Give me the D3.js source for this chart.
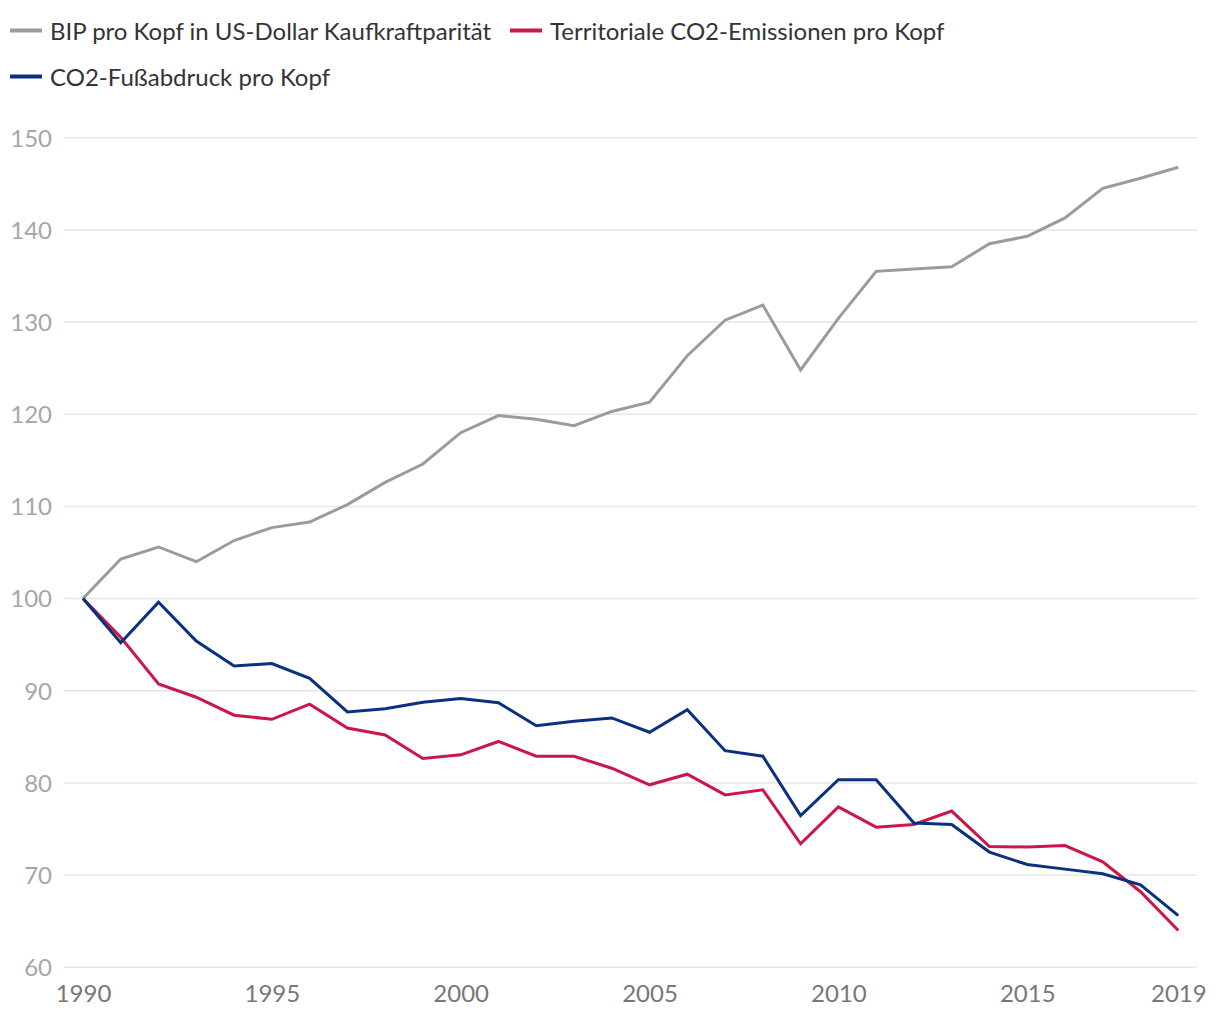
<!DOCTYPE html>
<html><head><meta charset="utf-8">
<script src="https://cdn.jsdelivr.net/npm/d3@7"></script>
<style>body{margin:0;background:#fff;font-family:Lato,"Open Sans",sans-serif;}</style>
</head><body><svg id="c" width="1220" height="1020"></svg>
<script>
const years = d3.range(1990, 2020);
const seriesNames = ["BIP pro Kopf in US-Dollar Kaufkraftparität","Territoriale CO2-Emissionen pro Kopf","CO2-Fußabdruck pro Kopf"];
const seriesColors = ["#9b9b9b","#cc1647","#0a3180"];
const gdp = [100,104.3,105.6,104.0,106.3,107.7,108.3,110.2,112.6,114.6,118.0,119.85,119.45,118.76,120.3,121.3,126.35,130.2,131.85,124.8,130.4,135.5,135.75,136.0,138.5,139.3,141.3,144.5,145.6,146.8];
const territorial = [100,95.8,90.75,89.3,87.35,86.9,88.55,85.95,85.2,82.65,83.05,84.5,82.9,82.9,81.6,79.8,80.95,78.7,79.25,73.4,77.4,75.2,75.5,76.95,73.1,73.05,73.2,71.45,68.2,64.0];
const footprint = [100,95.2,99.6,95.4,92.7,92.95,91.35,87.7,88.05,88.75,89.15,88.7,86.2,86.7,87.05,85.5,87.95,83.5,82.9,76.45,80.35,80.35,75.65,75.5,72.5,71.15,70.65,70.15,68.95,65.6];
const yTicks = [60,70,80,90,100,110,120,130,140,150];
const xTicks = [1990,1995,2000,2005,2010,2015,2019];

const svg = d3.select("#c");
const x = d3.scaleLinear().domain([1990,2019]).range([83,1178.3]);
const y = d3.scaleLinear().domain([60,150]).range([967.3,137.7]);

// grid
svg.append("g").selectAll("line").data(yTicks).join("line")
  .attr("x1",64).attr("x2",1197).attr("y1",d=>y(d)).attr("y2",d=>y(d))
  .attr("stroke","#e6e6e6").attr("stroke-width",1.5);

// y axis
const ya = svg.append("g").attr("transform","translate(52,0)")
  .call(d3.axisLeft(y).tickValues(yTicks).tickSize(0).tickPadding(0));
ya.select(".domain").remove();
ya.selectAll("text").attr("fill","#a6a6a6").style("font-family","Lato").style("font-size","24px").attr("dy","0.35em");

// x axis
const xa = svg.append("g").attr("transform","translate(0,985)")
  .call(d3.axisBottom(x).tickValues(xTicks).tickFormat(d3.format("d")).tickSize(0).tickPadding(0));
xa.select(".domain").remove();
xa.selectAll("text").attr("fill","#777").style("font-family","Lato").style("font-size","24px").attr("dy","0.71em");

const data = [gdp, territorial, footprint];
const line = d3.line().x((d,i)=>x(years[i])).y(d=>y(d));
svg.append("g").selectAll("path").data(data).join("path")
  .attr("d",line).attr("fill","none")
  .attr("stroke",(d,i)=>seriesColors[i]).attr("stroke-width",3).attr("stroke-linejoin","miter");

// legend
const legPos = [[10,32],[510,32],[10,78]];
const lg = svg.append("g").selectAll("g").data(seriesNames).join("g")
  .attr("transform",(d,i)=>`translate(${legPos[i][0]},${legPos[i][1]})`);
lg.append("line").attr("x1",0).attr("x2",32).attr("y1",-1.5).attr("y2",-1.5)
  .attr("stroke",(d,i)=>seriesColors[i]).attr("stroke-width",4);
lg.append("text").attr("x",40).attr("y",0).attr("dy","0.35em").text(d=>d)
  .attr("fill","#333").style("font-family","Lato").style("font-size","24px");
</script></body></html>
